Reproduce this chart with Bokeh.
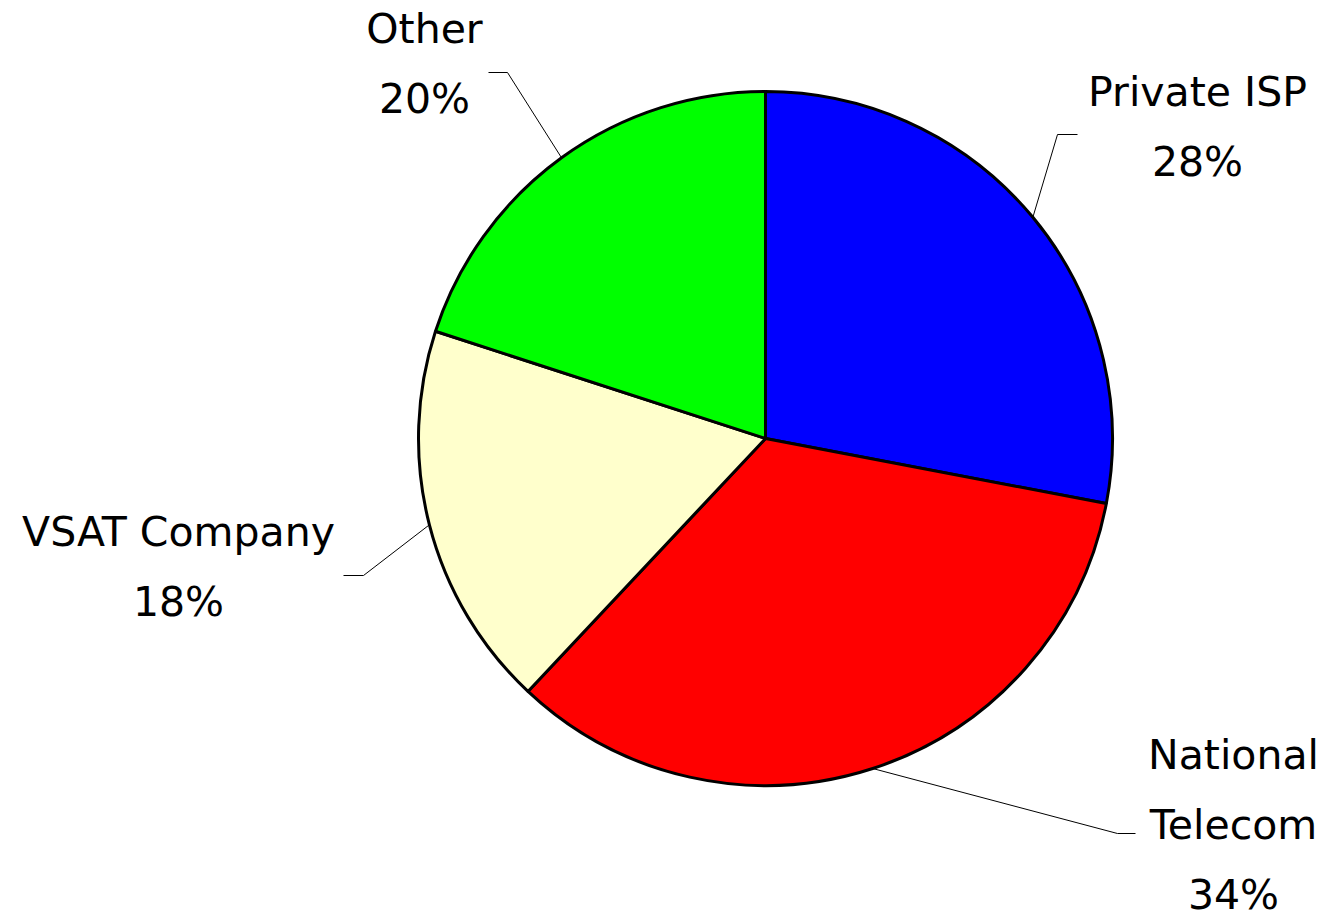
import math
from bokeh.plotting import figure
from bokeh.models import Range1d
from bokeh.core.properties import value
from bokeh.embed import file_html
from bokeh.resources import INLINE

# ---- data ----
categories = ["Private ISP", "National Telecom", "VSAT Company", "Other"]
values = [28, 34, 18, 20]
colors = ["#0000FF", "#FF0000", "#FFFFCC", "#00FF00"]
label_lines = [["Private ISP"], ["National", "Telecom"], ["VSAT Company"], ["Other"]]

# ---- layout (page pixel coords, y downward) ----
W, H = 1331, 917
CX, CY, R = 765, 438, 347
label_pos = [(1197, 91), (1233, 754), (178, 531), (424, 28)]   # centre x, first baseline
elbows = [((1057, 134), (1077, 134)), ((1117, 833), (1135, 833)),
          ((363, 575), (343, 575)), ((507, 72), (488, 72))]
LINE_STEP = 70
FONT = "DejaVu Sans"
FSIZE = "41px"


def Y(ys):
    return H - ys


p = figure(width=W, height=H, output_backend="svg", toolbar_location=None,
           x_range=Range1d(0, W), y_range=Range1d(0, H),
           min_border=0)
p.axis.visible = False
p.grid.visible = False
p.outline_line_color = None
p.background_fill_color = "white"
p.border_fill_color = "white"

total = sum(values)
cum = 0.0
starts, ends, mids = [], [], []
for v in values:
    a0 = 90 - 360 * (cum + v) / total
    a1 = 90 - 360 * cum / total
    starts.append(math.radians(a0))
    ends.append(math.radians(a1))
    mids.append(math.radians((a0 + a1) / 2))
    cum += v

p.wedge(x=[CX] * len(values), y=[Y(CY)] * len(values), radius=R,
        start_angle=starts, end_angle=ends, fill_color=colors,
        line_color="black", line_width=3)

# leader lines
xs, ys = [], []
for m, (el, en) in zip(mids, elbows):
    sx = CX + R * math.cos(m)
    sy = Y(CY) + R * math.sin(m)
    xs.append([sx, el[0], en[0]])
    ys.append([sy, Y(el[1]), Y(en[1])])
p.multi_line(xs=xs, ys=ys, line_color="black", line_width=1)

# labels
tx, ty, tt = [], [], []
for lines, v, (lx, ly) in zip(label_lines, values, label_pos):
    allines = lines + [f"{v}%"]
    for i, t in enumerate(allines):
        tx.append(lx)
        ty.append(Y(ly + i * LINE_STEP))
        tt.append(t)
p.text(x=tx, y=ty, text=tt, text_align="center", text_baseline="alphabetic",
       text_font=value(FONT), text_font_size=FSIZE, text_color="black")

open("out.html", "w").write(file_html(p, INLINE))
